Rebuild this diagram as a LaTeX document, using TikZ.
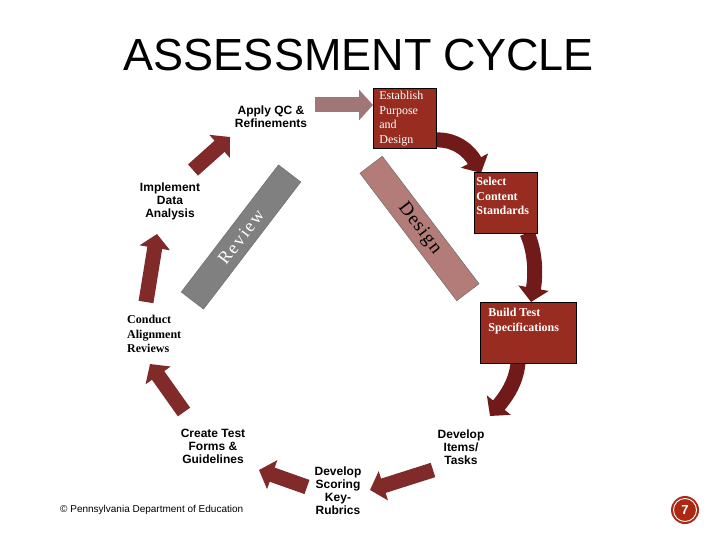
\documentclass[tikz,border=0pt]{standalone}
\usepackage{fontspec}
\setmainfont{Liberation Serif}
\setsansfont{Liberation Sans}
\usetikzlibrary{arrows.meta}

\definecolor{boxred}{RGB}{152,44,32}
\definecolor{arrowred}{RGB}{128,42,42}
\definecolor{arrowdark}{RGB}{112,26,26}
\definecolor{arrowpink}{RGB}{160,118,118}
\definecolor{reviewgray}{RGB}{128,128,128}
\definecolor{designpink}{RGB}{180,124,120}
\definecolor{numred}{RGB}{172,40,18}

\begin{document}
\begin{tikzpicture}[x=1pt,y=-1pt,
    stepbox/.style={draw=black, line width=0.8pt, fill=boxred, text=white, anchor=north west},
    steptext/.style={font=\sffamily\bfseries\fontsize{12}{13}\selectfont, align=center, inner sep=0pt},
    blockarrow/.style={line width=15pt, draw=arrowred, -{Triangle[width=30pt,length=14pt]}},
    banner/.style={draw=black!55, line width=0.6pt, minimum width=160pt, minimum height=28pt, inner sep=0pt}]
    \useasboundingbox (0,0) rectangle (720,540);

    % 标题
    \node[font=\sffamily\fontsize{45}{45}\selectfont, anchor=base] (title) at (359,71) {ASSESSMENT CYCLE};

    % 两条斜带
    \node[banner, fill=reviewgray, text=white, rotate=52.6, font=\fontsize{18}{18}\selectfont\addfontfeatures{LetterSpace=10}] (review) at (241,237) {Review};
    \node[banner, fill=designpink, text=black, rotate=-52.8, font=\fontsize{19}{19}\selectfont\addfontfeatures{LetterSpace=6}] (design) at (419.5,228.5) {Design};

    % 箭头端点
    \coordinate (qcS) at (315,105);   \coordinate (qcE) at (373,105);
    \coordinate (estS) at (436,140);  \coordinate (selE) at (481,173);
    \coordinate (selS) at (527,233);  \coordinate (bldE) at (531,302);
    \coordinate (bldS) at (518,363);  \coordinate (itmE) at (490,416);
    \coordinate (itmS) at (433,470);  \coordinate (scoE) at (370,490);
    \coordinate (scoS) at (307,487);  \coordinate (creE) at (259,470);
    \coordinate (creS) at (184,412);  \coordinate (conE) at (150,364);
    \coordinate (conS) at (146,302);  \coordinate (impE) at (157,234);
    \coordinate (impS) at (193,170);  \coordinate (qcT) at (230,137);

    \draw[blockarrow, draw=arrowpink] (qcS) -- (qcE);
    \draw[blockarrow, draw=arrowdark] (estS) .. controls (456,139) and (470,152) .. (selE);
    \draw[blockarrow, draw=arrowdark] (selS) .. controls (537,255) and (535,280) .. (bldE);
    \draw[blockarrow, draw=arrowdark] (bldS) .. controls (516,385) and (503,400) .. (itmE);
    \draw[blockarrow] (itmS) -- (scoE);
    \draw[blockarrow] (scoS) -- (creE);
    \draw[blockarrow] (creS) -- (conE);
    \draw[blockarrow] (conS) -- (impE);
    \draw[blockarrow] (impS) -- (qcT);

    % 红色方框
    \node[stepbox, inner xsep=6pt, inner ysep=3pt] (establish) at (373,88)
        {\parbox[c][54pt][t]{51pt}{\fontsize{12}{14.5}\selectfont Establish\\Purpose\\and\\Design}};
    \node[stepbox, inner xsep=2pt, inner ysep=5pt] (select) at (474,172)
        {\parbox[c][51pt][t]{59pt}{\bfseries\fontsize{12}{14.5}\selectfont Select\\Content\\Standards}};
    \node[stepbox, inner xsep=8pt, inner ysep=6pt] (build) at (480,302)
        {\parbox[c][49pt][t]{80pt}{\bfseries\fontsize{12}{15}\selectfont Build Test\\Specifications}};

    % 文字标签
    \node[steptext] (qc) at (271,117) {Apply QC \&\\Refinements};
    \node[steptext] (implement) at (170,201) {Implement\\Data\\Analysis};
    \node[steptext, font=\bfseries\fontsize{12}{14.5}\selectfont, align=left, anchor=west] (conduct) at (127,334) {Conduct\\Alignment\\Reviews};
    \node[steptext] (create) at (213,446) {Create Test\\Forms \&\\Guidelines};
    \node[steptext] (scoring) at (338,491) {Develop\\Scoring\\Key-\\Rubrics};
    \node[steptext] (items) at (461,447) {Develop\\Items/\\Tasks};

    % 页脚
    \node[font=\sffamily\fontsize{10}{10}\selectfont, anchor=base west, inner sep=0pt] (footer) at (60,512) {© Pennsylvania Department of Education};
    \fill[numred] (685,510) circle (14);
    \node[circle, draw=white, line width=0.9pt, fill=numred, minimum size=23pt, inner sep=0pt, text=white, font=\sffamily\bfseries\fontsize{13}{13}\selectfont] (page) at (685,510) {7};
\end{tikzpicture}
\end{document}
